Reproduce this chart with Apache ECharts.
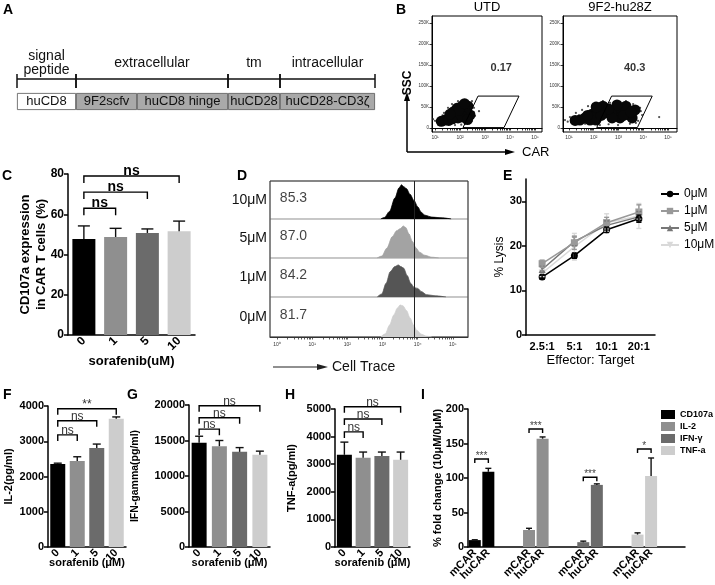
<!DOCTYPE html>
<html>
<head>
<meta charset="utf-8">
<script src="https://cdn.jsdelivr.net/npm/echarts@6/dist/echarts.min.js"></script>
<style>
  html, body { margin: 0; padding: 0; background: #fff; }
  #chart { width: 715px; height: 585px; }
</style>
</head>
<body>
<div id="chart"></div>
<script>
// ---------- data ----------
// A: CAR construct, relative domain lengths
const aSegments = ['huCD8', '9F2scfv', 'huCD8 hinge', 'huCD28', 'huCD28-CD3ζ'];
const aSegLength = [59, 61, 91, 52, 95];
const aRegions = ['signal\npeptide', 'extracellular', 'tm', 'intracellular'];
const aRegionLength = [59, 152, 52, 95];

// B: flow plots (x = log10 CAR, y = SSC in K)
const bTitles = ['UTD', '9F2-hu28Z'];
const bGatePct = ['0.17', '40.3'];
const bGate = [[2.12, 1], [2.72, 76], [4.36, 76], [3.76, 1], [2.12, 1]];
const bUtdCore = [[1.4, 19], [1.6, 26], [1.8, 31], [2.0, 38], [2.2, 43], [2.32, 52], [1.92, 24], [2.12, 26],
  [1.72, 38], [2.08, 52], [1.25, 16], [2.4, 31], [1.88, 47], [1.55, 18], [2.25, 35], [1.7, 22], [2.05, 30],
  [2.3, 20], [1.95, 42], [2.18, 58], [1.6, 33]];
const bUtdHalo = [[0.92, 21], [1.08, 14], [1.24, 26], [1.36, 36], [1.52, 48], [1.68, 57], [1.92, 64], [2.24, 67],
  [2.48, 64], [2.56, 48], [2.6, 29], [2.48, 17], [2.2, 10], [1.8, 7], [1.44, 10], [2.76, 40], [1.0, 17],
  [1.15, 22], [1.3, 30], [2.4, 60], [2.55, 38], [2.05, 8], [1.6, 9]];
const bCarCore = [[1.65, 24], [1.93, 33], [2.17, 43], [2.37, 52], [2.09, 19], [1.85, 19], [1.44, 19], [1.25, 18],
  [2.45, 36], [2.86, 38], [3.14, 43], [3.38, 33], [3.06, 24], [2.74, 24], [3.55, 24], [3.3, 52], [3.67, 43],
  [2.94, 55], [2.6, 45], [2.0, 27], [2.3, 30], [3.2, 30], [3.5, 38], [2.1, 50], [1.75, 30]];
const bCarHalo = [[0.84, 19], [1.04, 26], [1.28, 36], [1.53, 43], [1.77, 52], [2.05, 60], [2.37, 64], [2.66, 60],
  [2.98, 64], [3.3, 64], [3.59, 57], [3.87, 48], [3.95, 31], [3.79, 17], [3.46, 10], [2.98, 7], [2.25, 7],
  [1.65, 10], [1.24, 12], [4.64, 26], [0.95, 15], [1.1, 22], [1.4, 30], [3.9, 40], [3.7, 12], [2.6, 9]];

// C: CD107a expression
const doses = ['0', '1', '5', '10'];
const cMean = [47.7, 48.7, 50.7, 51.5];
const cSD = [6.5, 4.3, 2.0, 5.1];
const sigPairs = [[0, 1], [0, 2], [0, 3]];
const cSig = ['ns', 'ns', 'ns'];
const cSigLevel = [63, 71, 79];

// D: Cell Trace histograms (x = log10 intensity, y = relative count)
const dDoses = ['10μM', '5μM', '1μM', '0μM'];
const dPct = ['85.3', '87.0', '84.2', '81.7'];
const dGate = 3.91;
const dHist10 = [[2.95, 0], [3.05, 0.04], [3.2, 0.2], [3.35, 0.55], [3.47, 0.82], [3.54, 0.9], [3.6, 0.85], [3.68, 0.8],
  [3.78, 0.65], [3.9, 0.48], [4.0, 0.32], [4.1, 0.18], [4.2, 0.1], [4.4, 0.05], [4.7, 0.03], [4.95, 0]];
const dHist5 = [[2.85, 0], [2.98, 0.05], [3.12, 0.25], [3.28, 0.55], [3.4, 0.7], [3.5, 0.75], [3.59, 0.82], [3.66, 0.78],
  [3.75, 0.62], [3.85, 0.42], [3.95, 0.26], [4.05, 0.15], [4.2, 0.07], [4.4, 0.02], [4.6, 0]];
const dHist1 = [[2.85, 0], [2.98, 0.08], [3.1, 0.35], [3.22, 0.65], [3.35, 0.78], [3.45, 0.82], [3.52, 0.78], [3.6, 0.74],
  [3.7, 0.55], [3.8, 0.35], [3.9, 0.24], [4.0, 0.22], [4.1, 0.14], [4.25, 0.06], [4.5, 0.03], [4.8, 0]];
const dHist0 = [[2.95, 0], [3.08, 0.08], [3.2, 0.3], [3.32, 0.55], [3.42, 0.72], [3.5, 0.8], [3.58, 0.78], [3.68, 0.66],
  [3.78, 0.48], [3.88, 0.3], [3.98, 0.16], [4.1, 0.07], [4.25, 0.02], [4.4, 0]];

// E: cytotoxicity
const eRatios = ['2.5:1', '5:1', '10:1', '20:1'];
const eNames = ['0μM', '1μM', '5μM', '10μM'];
const eLysis0 = [13.0, 17.8, 23.6, 26.1];
const eLysis1 = [16.0, 20.7, 25.2, 27.6];
const eLysis5 = [14.7, 21.0, 24.6, 26.5];
const eLysis10 = [13.9, 19.8, 25.2, 26.7];
const eErr0 = [0.5, 0.6, 0.6, 0.8];
const eErr1 = [0.8, 1.5, 1.2, 1.6];
const eErr5 = [0.7, 1.0, 1.0, 1.2];
const eErr10 = [0.8, 3.0, 2.0, 2.8];

// F, G, H: cytokines
const fMean = [2358, 2440, 2810, 3640];
const fSD = [20, 120, 110, 50];
const fSig = ['ns', 'ns', '**'];
const fSigLevel = [3180, 3580, 3920];
const gMean = [14700, 14200, 13400, 13000];
const gSD = [900, 800, 600, 500];
const gSig = ['ns', 'ns', 'ns'];
const gSigLevel = [16600, 18200, 19900];
const hMean = [3340, 3230, 3300, 3160];
const hSD = [460, 210, 140, 280];
const hSig = ['ns', 'ns', 'ns'];
const hSigLevel = [4170, 4640, 5080];

// I: fold change mCAR vs huCAR
const iGroups = ['CD107a', 'IL-2', 'IFN-γ', 'TNF-a'];
const iMCar = [10, 24.6, 7, 18];
const iHuCar = [109, 157, 90, 103];
const iMErr = [0.5, 2.5, 1.5, 2.5];
const iHuErr = [5, 2.5, 1.5, 26];
const iSig = ['***', '***', '***', '*'];
const iSigLevel = [127.5, 171, 101, 142];

// ---------- styles ----------
const FONT = "'Liberation Sans', Arial, sans-serif";
const barShades = ['#000000', '#8f8f8f', '#6b6b6b', '#cdcdcd'];
const lineShades = ['#000000', '#999999', '#777777', '#d9d9d9'];
const histShades = ['#000000', '#a3a3a3', '#555555', '#cfcfcf'];
const SUP = ['⁰', '¹', '²', '³', '⁴', '⁵'];
const plain = v => String(v);

const grids = [], xAxes = [], yAxes = [], series = [], graphics = [];

function addGrid(left, top, width, height, extra) {
  grids.push(Object.assign({ left, top, width, height, containLabel: false, outerBoundsMode: 'none' }, extra || {}));
  return grids.length - 1;
}
const black = { color: '#000', width: 1.5 };

function logTicks(from, to) {
  const t = [];
  for (let d = from; d <= to; d++) {
    t.push(d);
    if (d < to) for (let m = 2; m <= 9; m++) t.push(d + Math.log10(m));
  }
  return t;
}

function errSeries(xi, yi, rows, cap, color, both) {
  return {
    type: 'custom', xAxisIndex: xi, yAxisIndex: yi, silent: true, z: 5,
    data: rows,
    renderItem: function (params, api) {
      const i = api.value(0), m = api.value(1), s = api.value(2);
      const top = api.coord([i, m + s]);
      const bot = api.coord([i, both ? m - s : m]);
      const st = { stroke: color, lineWidth: 1.4 };
      const ch = [
        { type: 'line', shape: { x1: top[0], y1: top[1], x2: bot[0], y2: bot[1] }, style: st },
        { type: 'line', shape: { x1: top[0] - cap / 2, y1: top[1], x2: top[0] + cap / 2, y2: top[1] }, style: st }
      ];
      if (both) ch.push({ type: 'line', shape: { x1: bot[0] - cap / 2, y1: bot[1], x2: bot[0] + cap / 2, y2: bot[1] }, style: st });
      return { type: 'group', children: ch };
    }
  };
}

function bracketSeries(xi, yi, pairs, levels, labels, leg, font, color) {
  return {
    type: 'custom', xAxisIndex: xi, yAxisIndex: yi, silent: true, z: 6, clip: false,
    data: pairs.map((p, k) => [p[0], p[1], levels[k]]),
    renderItem: function (params, api) {
      const a = api.coord([api.value(0), api.value(2)]);
      const b = api.coord([api.value(1), api.value(2)]);
      return {
        type: 'group', children: [
          { type: 'polyline', shape: { points: [[a[0], a[1] + leg], [a[0], a[1]], [b[0], b[1]], [b[0], b[1] + leg]] },
            style: { stroke: '#000', lineWidth: 1.4, fill: null } },
          { type: 'text', x: (a[0] + b[0]) / 2, y: a[1] + 2,
            style: { text: labels[params.dataIndex], font: font, fill: color, align: 'center', verticalAlign: 'bottom' } }
        ]
      };
    }
  };
}

// ---------- A ----------
(function () {
  const gi = addGrid(17, 70, 358, 18);
  xAxes.push({ gridIndex: gi, type: 'value', min: 0, max: 358, show: false });
  yAxes.push({ gridIndex: gi, type: 'value', min: 0, max: 1, show: false });
  const xi = xAxes.length - 1;
  let acc = 0;
  const regions = aRegionLength.map((len, k) => { const r = [acc, acc + len, k]; acc += len; return r; });
  series.push({
    type: 'custom', xAxisIndex: xi, yAxisIndex: xi, silent: true, data: regions,
    renderItem: function (params, api) {
      const s = api.coord([api.value(0), 0.5]), e = api.coord([api.value(1), 0.5]);
      const st = { stroke: '#111', lineWidth: 1.5 };
      return {
        type: 'group', children: [
          { type: 'line', shape: { x1: s[0], y1: s[1], x2: e[0], y2: e[1] }, style: st },
          { type: 'line', shape: { x1: s[0], y1: s[1] - 5, x2: s[0], y2: s[1] + 9 }, style: st },
          { type: 'line', shape: { x1: e[0], y1: e[1] - 5, x2: e[0], y2: e[1] + 9 }, style: st },
          { type: 'text', x: (s[0] + e[0]) / 2, y: s[1] - 16,
            style: { text: aRegions[api.value(2)], font: '14px ' + FONT, fill: '#111', align: 'center', verticalAlign: 'middle', lineHeight: 14 } }
        ]
      };
    }
  });

  const gj = addGrid(17, 93, 358, 17);
  xAxes.push({ gridIndex: gj, type: 'value', min: 0, max: 358, show: false });
  yAxes.push({ gridIndex: gj, type: 'category', data: ['construct'], show: false });
  const xj = xAxes.length - 1;
  aSegments.forEach((name, k) => {
    series.push({
      type: 'bar', name: name, xAxisIndex: xj, yAxisIndex: xj, stack: 'a', barWidth: '100%', silent: true,
      data: [aSegLength[k]],
      itemStyle: { color: k === 0 ? '#ffffff' : '#a9a9a9', borderColor: '#555', borderWidth: 0.8 },
      label: { show: true, position: 'inside', formatter: name, fontSize: 13, color: '#111', fontFamily: FONT }
    });
  });
})();

// ---------- B ----------
[[432, 110, 0.88, 5.28, bUtdCore, bUtdHalo], [563, 114, 0.76, 5.36, bCarCore, bCarHalo]].forEach((p, k) => {
  const gi = addGrid(p[0], 16, p[1], 116, { show: true, borderColor: '#000', borderWidth: 1, backgroundColor: 'transparent' });
  xAxes.push({
    gridIndex: gi, type: 'value', min: p[2], max: p[3],
    axisLine: { lineStyle: { color: '#000', width: 1 } },
    axisTick: { show: true, length: 2.5, customValues: logTicks(1, 5), lineStyle: { color: '#000', width: 0.8 } },
    axisLabel: { customValues: [1, 2, 3, 4, 5], formatter: v => '10' + SUP[v], fontSize: 5, color: '#333', margin: 3 },
    splitLine: { show: false }
  });
  yAxes.push({
    gridIndex: gi, type: 'value', min: -9.5, max: 266.7,
    axisLine: { lineStyle: { color: '#000', width: 1 } },
    axisTick: { show: true, length: 2.5, customValues: [0, 50, 100, 150, 200, 250], lineStyle: { color: '#000', width: 0.8 } },
    axisLabel: { customValues: [0, 50, 100, 150, 200, 250], formatter: v => (v ? v + 'K' : '0'), fontSize: 4.5, color: '#333', margin: 3 },
    splitLine: { show: false }
  });
  const xi = xAxes.length - 1;
  series.push({
    type: 'scatter', xAxisIndex: xi, yAxisIndex: xi, data: p[5], symbolSize: 2.2, silent: true,
    itemStyle: { color: '#222' }
  });
  series.push({
    type: 'scatter', xAxisIndex: xi, yAxisIndex: xi, data: p[4], symbolSize: 11, silent: true,
    itemStyle: { color: '#080808', opacity: 1 }
  });
  series.push({
    type: 'line', xAxisIndex: xi, yAxisIndex: xi, data: bGate, showSymbol: false, silent: true,
    lineStyle: { color: '#000', width: 1 }, z: 4
  });
  series.push({
    type: 'scatter', xAxisIndex: xi, yAxisIndex: xi, data: [[3.65, 143]], symbolSize: 0, silent: true,
    label: { show: true, position: 'inside', formatter: bGatePct[k], fontSize: 11, fontWeight: 'bold', color: '#000', fontFamily: FONT }
  });
  graphics.push({ type: 'text', x: p[0] + p[1] / 2, y: 7,
    style: { text: bTitles[k], font: '13px ' + FONT, fill: '#000', align: 'center', verticalAlign: 'middle' } });
});

// ---------- bar panels C, F, G, H ----------
function barPanel(o) {
  const gi = addGrid(o.left, o.top, o.width, o.height);
  xAxes.push({
    gridIndex: gi, type: 'category', data: doses,
    name: o.xName, nameLocation: 'middle', nameGap: o.xNameGap, nameMoveOverlap: false,
    nameTextStyle: { fontSize: o.nameSize, fontWeight: 'bold', color: '#000', fontFamily: FONT },
    axisLine: { lineStyle: black },
    axisTick: { alignWithLabel: true, length: 4, lineStyle: black },
    axisLabel: { rotate: 45, interval: 0, fontSize: o.tickSize, fontWeight: 'bold', color: '#000', margin: 4, fontFamily: FONT }
  });
  yAxes.push({
    gridIndex: gi, type: 'value', min: 0, max: o.max, interval: o.interval,
    name: o.yName, nameLocation: 'middle', nameGap: o.yNameGap, nameRotate: 90, nameMoveOverlap: false,
    nameTextStyle: { fontSize: o.yNameSize, fontWeight: 'bold', color: '#000', fontFamily: FONT, lineHeight: o.yNameSize + 3 },
    axisLine: { show: true, lineStyle: black },
    axisTick: { show: true, length: 4, lineStyle: black },
    axisLabel: { formatter: plain, fontSize: o.tickSize, fontWeight: 'bold', color: '#000', margin: 4, fontFamily: FONT },
    splitLine: { show: false }
  });
  const xi = xAxes.length - 1;
  series.push({
    type: 'bar', xAxisIndex: xi, yAxisIndex: xi, barWidth: o.barWidth, silent: true,
    data: o.mean.map((v, i) => ({ value: v, itemStyle: { color: barShades[i] } }))
  });
  series.push(errSeries(xi, xi, o.mean.map((m, i) => [i, m, o.sd[i]]), o.cap, '#111', false));
  series.push(bracketSeries(xi, xi, sigPairs, o.sigLevel, o.sig, o.leg, o.sigFont, o.sigColor));
}

barPanel({ left: 68, top: 174, width: 127, height: 161, max: 80, interval: 20, mean: cMean, sd: cSD,
  sig: cSig, sigLevel: cSigLevel, leg: 7, sigFont: 'bold 14px ' + FONT, sigColor: '#000',
  xName: 'sorafenib(uM)', xNameGap: 20, nameSize: 13, tickSize: 12,
  yName: 'CD107a expression\nin CAR T cells (%)', yNameGap: 19, yNameSize: 13, barWidth: 23, cap: 12 });
barPanel({ left: 48, top: 406, width: 78, height: 141, max: 4000, interval: 1000, mean: fMean, sd: fSD,
  sig: fSig, sigLevel: fSigLevel, leg: 6, sigFont: '12px ' + FONT, sigColor: '#333',
  xName: 'sorafenib (μM)', xNameGap: 10, nameSize: 11, tickSize: 11,
  yName: 'IL-2(pg/ml)', yNameGap: 32, yNameSize: 11, barWidth: 15, cap: 8 });
barPanel({ left: 189, top: 405, width: 81, height: 142, max: 20000, interval: 5000, mean: gMean, sd: gSD,
  sig: gSig, sigLevel: gSigLevel, leg: 6, sigFont: '12px ' + FONT, sigColor: '#333',
  xName: 'sorafenib (μM)', xNameGap: 10, nameSize: 11, tickSize: 11,
  yName: 'IFN-gamma(pg/ml)', yNameGap: 47, yNameSize: 10.5, barWidth: 15, cap: 8 });
barPanel({ left: 335, top: 409, width: 75, height: 138, max: 5000, interval: 1000, mean: hMean, sd: hSD,
  sig: hSig, sigLevel: hSigLevel, leg: 6, sigFont: '12px ' + FONT, sigColor: '#333',
  xName: 'sorafenib (μM)', xNameGap: 10, nameSize: 11, tickSize: 11,
  yName: 'TNF-a(pg/ml)', yNameGap: 36, yNameSize: 11, barWidth: 15, cap: 8 });

// ---------- D ----------
(function () {
  const tops = [181, 219, 258, 297], heights = [38, 39, 39, 40];
  const hists = [dHist10, dHist5, dHist1, dHist0];
  tops.forEach((top, r) => {
    const last = r === 3;
    const gi = addGrid(270, top, 198, heights[r], { show: true, borderColor: '#b5b5b5', borderWidth: 1, backgroundColor: 'transparent' });
    xAxes.push({
      gridIndex: gi, type: 'value', min: -0.2, max: 5.43,
      axisLine: { show: last, lineStyle: { color: '#333', width: 1 } },
      axisTick: { show: last, length: 2.5, customValues: logTicks(0, 5), lineStyle: { color: '#333', width: 0.8 } },
      axisLabel: { show: last, customValues: [0, 1, 2, 3, 4, 5], formatter: v => '10' + SUP[v], fontSize: 5, color: '#333', margin: 5 },
      splitLine: { show: false }
    });
    yAxes.push({
      gridIndex: gi, type: 'value', min: 0, max: 1,
      name: dDoses[r], nameLocation: 'middle', nameRotate: 0, nameGap: 3, nameMoveOverlap: false,
      nameTextStyle: { fontSize: 14, color: '#111', fontFamily: FONT, align: 'right', verticalAlign: 'middle' },
      axisLine: { show: false }, axisTick: { show: false }, axisLabel: { show: false }, splitLine: { show: false }
    });
    const xi = xAxes.length - 1;
    series.push({
      type: 'line', xAxisIndex: xi, yAxisIndex: xi, data: hists[r], smooth: 0.3, smoothMonotone: 'x',
      showSymbol: false, silent: true,
      lineStyle: { color: histShades[r], width: 0.8 },
      areaStyle: { color: histShades[r], opacity: 1 },
      markLine: { silent: true, symbol: 'none', label: { show: false }, data: [{ xAxis: dGate }],
        lineStyle: { color: '#222', width: 1, type: 'solid' } }
    });
    series.push({
      type: 'scatter', xAxisIndex: xi, yAxisIndex: xi, data: [[0.08, 0.55]], symbolSize: 0, silent: true,
      label: { show: true, position: 'right', distance: 0, formatter: dPct[r], fontSize: 14, color: '#111', fontFamily: FONT }
    });
  });
  const go = addGrid(270, 181, 198, 156, { show: true, borderColor: '#333', borderWidth: 1, backgroundColor: 'transparent' });
  xAxes.push({ gridIndex: go, type: 'value', show: false });
  yAxes.push({ gridIndex: go, type: 'value', show: false });
})();

// ---------- E ----------
(function () {
  const gi = addGrid(526, 179, 129, 156);
  xAxes.push({
    gridIndex: gi, type: 'category', data: eRatios, boundaryGap: true,
    name: 'Effector: Target', nameLocation: 'middle', nameGap: 19, nameMoveOverlap: false,
    nameTextStyle: { fontSize: 13, color: '#000', fontFamily: FONT },
    axisLine: { lineStyle: black },
    axisTick: { alignWithLabel: true, length: 4, lineStyle: black },
    axisLabel: { interval: 0, fontSize: 11, fontWeight: 'bold', color: '#000', margin: 6, fontFamily: FONT }
  });
  yAxes.push({
    gridIndex: gi, type: 'value', min: 0, max: 35,
    name: '% Lysis', nameLocation: 'middle', nameGap: 20, nameRotate: 90, nameMoveOverlap: false,
    nameTextStyle: { fontSize: 12, color: '#000', fontFamily: FONT },
    axisLine: { show: true, lineStyle: black },
    axisTick: { show: true, length: 4, customValues: [0, 10, 20, 30], lineStyle: black },
    axisLabel: { customValues: [0, 10, 20, 30], formatter: plain, fontSize: 11, fontWeight: 'bold', color: '#000', margin: 4, fontFamily: FONT },
    splitLine: { show: false }
  });
  const xi = xAxes.length - 1;
  const lysis = [eLysis0, eLysis1, eLysis5, eLysis10];
  const errs = [eErr0, eErr1, eErr5, eErr10];
  const symbols = ['circle', 'rect', 'triangle', 'triangle'];
  [3, 2, 1, 0].forEach(k => {
    series.push(errSeries(xi, xi, lysis[k].map((m, i) => [i, m, errs[k][i]]), 5, lineShades[k], true));
  });
  [3, 2, 1, 0].forEach(k => {
    series.push({
      type: 'line', name: eNames[k], xAxisIndex: xi, yAxisIndex: xi, data: lysis[k], silent: true,
      symbol: symbols[k], symbolSize: 7, symbolRotate: k === 3 ? 180 : 0, showAllSymbol: true,
      itemStyle: { color: lineShades[k] }, lineStyle: { color: lineShades[k], width: 1.5 }, z: 4
    });
  });
})();

// ---------- I ----------
(function () {
  const slots = [];
  for (let k = 0; k < 16; k++) slots.push(k % 4 === 0 ? 'mCAR' : (k % 4 === 1 ? 'huCAR' : ''));
  const gi = addGrid(468, 409, 217, 138);
  xAxes.push({
    gridIndex: gi, type: 'category', data: slots,
    axisLine: { lineStyle: black },
    axisTick: { alignWithLabel: true, length: 4, interval: idx => idx % 4 !== 3, lineStyle: black },
    axisLabel: { rotate: 45, interval: 0, fontSize: 11, fontWeight: 'bold', color: '#000', margin: 4, fontFamily: FONT }
  });
  yAxes.push({
    gridIndex: gi, type: 'value', min: 0, max: 200, interval: 50,
    name: '% fold change (10μM/0μM)', nameLocation: 'middle', nameGap: 25, nameRotate: 90, nameMoveOverlap: false,
    nameTextStyle: { fontSize: 11, fontWeight: 'bold', color: '#000', fontFamily: FONT },
    axisLine: { show: true, lineStyle: black },
    axisTick: { show: true, length: 4, lineStyle: black },
    axisLabel: { formatter: plain, fontSize: 11, fontWeight: 'bold', color: '#000', margin: 4, fontFamily: FONT },
    splitLine: { show: false }
  });
  const xi = xAxes.length - 1;
  iGroups.forEach((name, g) => {
    const d = new Array(16).fill('-');
    d[4 * g] = iMCar[g];
    d[4 * g + 1] = iHuCar[g];
    series.push({
      type: 'bar', name: name, xAxisIndex: xi, yAxisIndex: xi, stack: 'i', barWidth: 12, silent: true,
      data: d, itemStyle: { color: barShades[g] }
    });
  });
  const errRows = [];
  iGroups.forEach((n, g) => {
    errRows.push([4 * g, iMCar[g], iMErr[g]]);
    errRows.push([4 * g + 1, iHuCar[g], iHuErr[g]]);
  });
  series.push(errSeries(xi, xi, errRows, 6, '#111', false));
  series.push(bracketSeries(xi, xi, iGroups.map((n, g) => [4 * g, 4 * g + 1]), iSigLevel, iSig, 4, '10px ' + FONT, '#444'));
})();

// ---------- decorations ----------
const letters = [['A', 3, 10], ['B', 396, 10], ['C', 2, 176], ['D', 237, 176], ['E', 503, 176],
  ['F', 3, 395], ['G', 127, 395], ['H', 285, 395], ['I', 421, 395]];
letters.forEach(l => graphics.push({ type: 'text', x: l[1], y: l[2],
  style: { text: l[0], font: 'bold 14px ' + FONT, fill: '#000', align: 'left', verticalAlign: 'middle' } }));

const arrowSt = { stroke: '#000', lineWidth: 1.5 };
graphics.push(
  { type: 'line', shape: { x1: 407, y1: 152, x2: 407, y2: 99 }, style: arrowSt },
  { type: 'polygon', shape: { points: [[407, 92], [404, 101], [410, 101]] }, style: { fill: '#000' } },
  { type: 'line', shape: { x1: 407, y1: 152, x2: 507, y2: 152 }, style: arrowSt },
  { type: 'polygon', shape: { points: [[515, 152], [505, 149], [505, 155]] }, style: { fill: '#000' } },
  { type: 'text', x: 408, y: 83, rotation: Math.PI / 2,
    style: { text: 'SSC', font: 'bold 12px ' + FONT, fill: '#000', align: 'center', verticalAlign: 'middle' } },
  { type: 'text', x: 522, y: 152,
    style: { text: 'CAR', font: '13px ' + FONT, fill: '#000', align: 'left', verticalAlign: 'middle' } },
  { type: 'line', shape: { x1: 273, y1: 367, x2: 320, y2: 367 }, style: { stroke: '#222', lineWidth: 1.2 } },
  { type: 'polygon', shape: { points: [[328, 367], [317, 364], [317, 370]] }, style: { fill: '#222' } },
  { type: 'text', x: 332, y: 367,
    style: { text: 'Cell Trace', font: '14px ' + FONT, fill: '#111', align: 'left', verticalAlign: 'middle' } }
);

const chart = echarts.init(document.getElementById('chart'));
chart.setOption({
  animation: false,
  backgroundColor: '#fff',
  textStyle: { fontFamily: FONT },
  grid: grids,
  xAxis: xAxes,
  yAxis: yAxes,
  legend: [
    {
      data: eNames, left: 655, top: 183, orient: 'vertical', itemWidth: 18, itemHeight: 8, itemGap: 5,
      textStyle: { fontSize: 12, color: '#000', fontFamily: FONT }, selectedMode: false
    },
    {
      data: iGroups, left: 656, top: 405, orient: 'vertical', icon: 'rect', itemWidth: 14, itemHeight: 9, itemGap: 3,
      textStyle: { fontSize: 9, fontWeight: 'bold', color: '#000', fontFamily: FONT }, selectedMode: false
    }
  ],
  graphic: { elements: graphics },
  series: series
});
</script>
</body>
</html>
